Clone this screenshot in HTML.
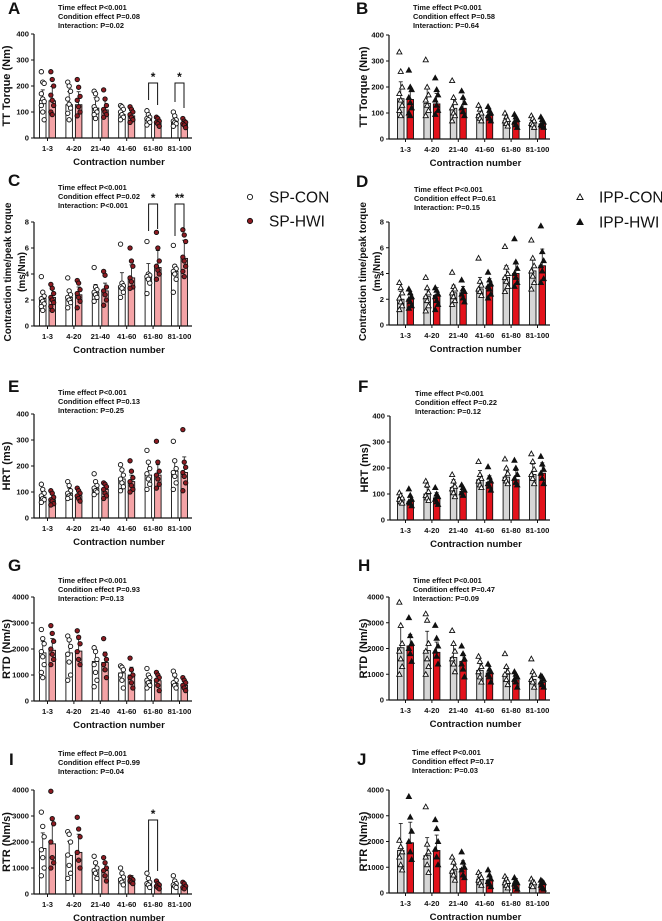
<!DOCTYPE html>
<html><head><meta charset="utf-8"><style>
html,body{margin:0;padding:0;background:#fff;}
svg{display:block;font-family:"Liberation Sans",Arial,sans-serif;}
text{font-weight:bold;fill:#111;}
</style></head>
<body>
<svg id="fig" width="662" height="921" viewBox="0 0 662 921" xmlns="http://www.w3.org/2000/svg"></svg>
<script>
const cats=["1-3","4-20","21-40","41-60","61-80","81-100"];
// Panel A
const A_con=[145,128,115,90,73,62], A_hwi=[143,128,108,85,58,52];
const A_conSd=[40,50,40,25,15,15], A_hwiSd=[55,50,40,25,15,15];
const A_conPts=[[255,215,210,170,150,140,125,100,70],[215,200,180,150,130,115,95,70],[180,170,150,120,110,100,90,75],[125,120,110,100,90,80,70],[105,90,80,75,70,60,50],[100,85,70,65,60,55,45]];
const A_hwiPts=[[255,225,200,165,145,125,100,90],[225,195,160,145,120,100,85],[185,150,125,110,100,90,80],[120,110,100,90,80,70,60],[80,75,65,60,55,45],[75,65,60,55,50,40]];
const A_ticks=[0,100,200,300,400];
// Panel B
const B_con=[155,137,118,95,70,62], B_hwi=[152,135,118,90,65,58];
const B_conSd=[65,60,40,25,18,15], B_hwiSd=[45,40,35,25,18,15];
const B_conPts=[[335,260,200,175,150,130,110,90],[305,200,170,150,130,110,90],[225,160,140,120,100,90,70],[130,115,100,90,80,70],[100,85,75,70,60,50],[90,80,70,60,55,45]];
const B_hwiPts=[[265,200,190,160,140,120,100,90],[235,190,170,150,130,110,95],[185,160,140,120,105,90],[125,110,100,90,80,70],[95,85,75,65,55,45],[85,75,65,55,50,45]];
// Panel C
const C_con=[2.1,2.2,2.6,3.0,3.8,4.2], C_hwi=[2.2,2.4,2.7,3.7,4.5,5.2];
const C_conSd=[0.5,0.5,0.6,1.1,1.0,0.5], C_hwiSd=[0.6,0.6,0.6,1.0,1.3,1.4];
const C_conPts=[[3.8,2.6,2.3,2.1,1.9,1.7,1.5,1.2],[3.7,2.7,2.4,2.2,2.0,1.8,1.4],[4.5,3.0,2.8,2.6,2.4,2.2,1.9],[6.3,3.3,3.1,3.0,2.9,2.6,2.2],[6.5,4.0,3.9,3.8,3.6,3.3,2.5],[6.2,4.6,4.4,4.2,4.0,3.6,2.6]];
const C_hwiPts=[[3.2,2.9,2.5,2.2,2.0,1.8,1.5,1.2],[3.5,3.3,2.8,2.5,2.2,1.9,1.4],[4.2,3.9,3.0,2.7,2.4,2.0,1.6],[6.0,5.0,4.6,3.7,3.4,3.0,2.9],[7.2,6.0,5.0,4.6,4.3,4.0,3.6],[7.4,7.0,6.5,5.3,5.0,4.6,4.2,3.8]];
const C_ticks=[0,2,4,6,8];
// Panel D
const D_con=[2.0,2.2,2.5,2.8,3.7,4.2], D_hwi=[2.0,2.3,2.5,3.0,4.0,4.6];
const D_conSd=[0.6,0.6,0.6,0.9,0.9,0.9], D_hwiSd=[0.6,0.6,0.5,0.6,0.9,1.3];
const D_conPts=[[3.3,2.9,2.5,2.1,1.8,1.5,1.2],[3.7,2.9,2.5,2.2,1.9,1.5,1.1],[4.1,3.0,2.8,2.5,2.2,1.9,1.6],[5.2,3.4,3.1,2.8,2.6,2.3],[6.1,4.5,4.0,3.7,3.4,3.0,2.6],[6.6,5.2,4.6,4.2,3.8,3.3,2.8]];
const D_hwiPts=[[2.8,2.5,2.2,2.0,1.8,1.5,1.3],[2.9,2.7,2.4,2.2,1.9,1.6,1.2],[3.5,2.8,2.6,2.4,2.1,1.8],[4.1,3.5,3.2,3.0,2.8,2.4,2.1],[6.7,4.9,4.4,4.0,3.7,3.3,3.0],[7.7,5.7,5.0,4.6,4.2,3.6,3.3]];
// Panel E
const E_con=[80,95,115,150,165,180], E_hwi=[70,85,110,140,165,175];
const E_conSd=[20,20,22,30,45,45], E_hwiSd=[20,18,20,25,40,60];
const E_conPts=[[130,110,95,85,75,70,60],[140,125,105,95,85,80,75],[170,140,125,115,105,100,90],[205,185,165,150,135,120,105],[260,215,190,170,150,130,110],[295,220,190,175,160,135,110]];
const E_hwiPts=[[105,95,80,70,65,55,50],[115,105,95,85,75,65],[135,130,120,110,95,85,75],[220,180,155,140,125,110,100],[295,215,180,165,150,130,115],[340,215,195,175,160,135,105]];
// Panel F
const F_con=[85,100,125,155,165,175], F_hwi=[70,85,110,145,155,180];
const F_conSd=[18,25,30,35,35,40], F_hwiSd=[20,20,15,25,35,40];
const F_conPts=[[105,95,85,80,70,65],[150,135,110,95,85,75],[175,150,130,120,105,90],[225,175,160,150,135,125],[235,200,180,160,150,140],[255,225,195,175,160,140]];
const F_hwiPts=[[120,95,80,70,65,55],[125,100,90,80,70,60],[135,125,115,105,95],[205,165,150,140,130,115],[230,200,175,160,145,135],[245,215,195,180,160,140]];
// Panel G
const G_con=[1850,1850,1520,1080,790,680], G_hwi=[1950,1920,1480,1000,780,600];
const G_conSd=[450,500,450,250,200,250], G_hwiSd=[450,450,400,300,250,200];
const G_conPts=[[2750,2400,2200,1900,1700,1400,1100,900],[2500,2350,2100,1800,1500,1000,800],[2050,1900,1600,1400,1100,800,550],[1350,1300,1200,1000,800,500],[1250,1000,900,800,700,600,500],[1150,1000,800,700,600,500]];
const G_hwiPts=[[2900,2600,2300,2000,1800,1600,1400],[2700,2450,2200,1900,1600,1400],[2400,1800,1600,1400,1200,900],[1650,1200,1000,900,700,500],[1100,1000,900,800,600,400],[900,800,700,600,500,400]];
const G_ticks=[0,1000,2000,3000,4000];
// Panel H
const H_con=[2030,1920,1650,1150,1000,800], H_hwi=[2100,1850,1500,1050,780,680];
const H_conSd=[800,750,500,300,300,300], H_hwiSd=[450,400,300,250,200,200];
const H_conPts=[[3800,2900,2200,1900,1600,1300,1000],[3350,3100,2200,1900,1600,1300,1000],[2700,2200,1900,1600,1400,1100],[1700,1500,1300,1100,900,700],[1800,1300,1100,1000,800,600],[1600,1100,1000,800,700,500]];
const H_hwiPts=[[3200,2500,2200,2000,1800,1500],[2900,2400,2100,1900,1700,1400],[2100,1800,1600,1400,1200,900],[1400,1200,1100,1000,900,700],[1100,1000,900,800,700,500],[950,900,800,700,600,500]];
// Panel I
const I_con=[1750,1480,960,600,430,370], I_hwi=[1930,1600,900,560,330,300];
const I_conSd=[600,550,300,200,150,120], I_hwiSd=[900,700,300,150,120,120];
const I_conPts=[[3150,2600,2200,1700,1400,1000,700],[2400,2300,2000,1500,1100,800,600],[1450,1200,1000,900,800,600],[1000,800,650,550,450,350],[800,600,450,400,350,250],[700,500,400,350,300,250]];
const I_hwiPts=[[3950,2900,2700,2000,1400,1200,1000],[2950,2500,2200,1600,1300,1000],[1400,1200,1000,900,700,500],[650,600,550,500,450,400],[500,400,350,300,250,200],[450,400,300,250,200]];
// Panel J
const J_con=[1650,1450,860,540,420,350], J_hwi=[1950,1650,950,500,380,330];
const J_conSd=[1050,700,350,250,180,150], J_hwiSd=[800,600,300,200,180,150];
const J_conPts=[[2050,1800,1600,1400,1100,900],[3350,1900,1600,1400,1100,800],[1400,1200,1000,850,700,500],[800,700,600,500,400,300],[650,550,450,400,300,200],[550,450,400,300,250]];
const J_hwiPts=[[3750,2950,2400,2000,1600,1300],[2850,2500,2000,1700,1400,1100],[1600,1200,1000,900,700,600],[900,700,550,450,350,250],[600,500,400,350,250,150],[500,450,400,300,200,150]];

const NS="http://www.w3.org/2000/svg";
const svg=document.getElementById('fig');
function mk(tag,attrs,parent){const e=document.createElementNS(NS,tag);for(const k in attrs)e.setAttribute(k,attrs[k]);(parent||svg).appendChild(e);return e;}
function txt(s,attrs,parent){const e=mk('text',attrs,parent);e.textContent=s;return e;}

const panels=[
 {L:'A',left:true,ax:34,top:34,bot:138,max:400,ticks:A_ticks,con:A_con,hwi:A_hwi,cs:A_conSd,hs:A_hwiSd,cp:A_conPts,hp:A_hwiPts,yt:['TT Torque (Nm)'],stats:['Time effect P<0.001','Condition effect P=0.08','Interaction: P=0.02'],sx:58,sy:10,lx:8,ly:14,br:[[4,'*',83,100,105],[5,'*',83,102,108]]},
 {L:'B',left:false,ax:389,top:35,bot:139,max:400,ticks:A_ticks,con:B_con,hwi:B_hwi,cs:B_conSd,hs:B_hwiSd,cp:B_conPts,hp:B_hwiPts,yt:['TT Torque (Nm)'],stats:['Time effect P<0.001','Condition effect P=0.58','Interaction: P=0.64'],sx:413,sy:10,lx:356,ly:14,br:[]},
 {L:'C',left:true,ax:34,top:222,bot:326,max:8,ticks:C_ticks,con:C_con,hwi:C_hwi,cs:C_conSd,hs:C_hwiSd,cp:C_conPts,hp:C_hwiPts,yt:['Contraction time/peak torque','(ms/Nm)'],ytx:[11,25],stats:['Time effect P<0.001','Condition effect P=0.02','Interaction: P<0.001'],sx:58,sy:190,lx:8,ly:186,br:[[4,'*',204,231,229],[5,'**',204,236,229]]},
 {L:'D',left:false,ax:389,top:222,bot:325,max:8,ticks:C_ticks,con:D_con,hwi:D_hwi,cs:D_conSd,hs:D_hwiSd,cp:D_conPts,hp:D_hwiPts,yt:['Contraction time/peak torque','(ms/Nm)'],ytx:[366,380],stats:['Time effect P<0.001','Condition effect P=0.61','Interaction: P=0.15'],sx:414,sy:192,lx:356,ly:187,br:[]},
 {L:'E',left:true,ax:34,top:414,bot:518,max:400,ticks:A_ticks,con:E_con,hwi:E_hwi,cs:E_conSd,hs:E_hwiSd,cp:E_conPts,hp:E_hwiPts,yt:['HRT (ms)'],stats:['Time effect P<0.001','Condition effect P=0.13','Interaction: P=0.25'],sx:58,sy:395,lx:8,ly:392,br:[]},
 {L:'F',left:false,ax:390,top:416,bot:520,max:400,ticks:A_ticks,con:F_con,hwi:F_hwi,cs:F_conSd,hs:F_hwiSd,cp:F_conPts,hp:F_hwiPts,yt:['HRT (ms)'],stats:['Time effect P<0.001','Condition effect P=0.22','Interaction: P=0.12'],sx:415,sy:396,lx:358,ly:392,br:[]},
 {L:'G',left:true,ax:34,top:597,bot:701,max:4000,ticks:G_ticks,con:G_con,hwi:G_hwi,cs:G_conSd,hs:G_hwiSd,cp:G_conPts,hp:G_hwiPts,yt:['RTD (Nm/s)'],stats:['Time effect P<0.001','Condition effect P=0.93','Interaction: P=0.13'],sx:58,sy:583,lx:8,ly:571,br:[]},
 {L:'H',left:false,ax:389,top:597,bot:700,max:4000,ticks:G_ticks,con:H_con,hwi:H_hwi,cs:H_conSd,hs:H_hwiSd,cp:H_conPts,hp:H_hwiPts,yt:['RTD (Nm/s)'],stats:['Time effect P<0.001','Condition effect P=0.47','Interaction: P=0.09'],sx:413,sy:583,lx:358,ly:571,br:[]},
 {L:'I',left:true,ax:34,top:790,bot:894,max:4000,ticks:G_ticks,con:I_con,hwi:I_hwi,cs:I_conSd,hs:I_hwiSd,cp:I_conPts,hp:I_hwiPts,yt:['RTR (Nm/s)'],stats:['Time effect P=0.001','Condition effect P=0.99','Interaction: P=0.04'],sx:58,sy:756,lx:9,ly:765,br:[[4,'*',820,871,871]]},
 {L:'J',left:false,ax:389,top:790,bot:893,max:4000,ticks:G_ticks,con:J_con,hwi:J_hwi,cs:J_conSd,hs:J_hwiSd,cp:J_conPts,hp:J_hwiPts,yt:['RTR (Nm/s)'],stats:['Time effect P<0.001','Condition effect P=0.17','Interaction: P=0.03'],sx:412,sy:755,lx:357,ly:765,br:[]}
];

function marker(g,x,y,isCon,left,big){
  let m;
  const k=big?1.2:1;
  if(left){
    m=mk('circle',{cx:x,cy:y,r:2.2*k,fill:isCon?'#fff':'#8e1b22',stroke:'#111','stroke-width':0.9},g);
  }else{
    const s=2.6*k;
    m=mk('polygon',{points:`${x},${y-s} ${x+s},${y+s*0.8} ${x-s},${y+s*0.8}`,fill:isCon?'#fff':'#111',stroke:'#111','stroke-width':0.9},g);
  }
  
  
}

panels.forEach(p=>{
  const g=mk('g',{});
  
  
  const yS=v=>p.bot-(v/p.max)*(p.bot-p.top);
  const first=p.left?47.5:405.5, step=26.4;
  const xC=i=>first+i*step;
  const xEnd=p.left?192:550;
  const lt=txt(p.L,{x:p.lx,y:p.ly,'font-size':17},g);
  
  
  p.stats.forEach((s,i)=>{const t=txt(s,{x:p.sx,y:p.sy+i*9,'font-size':7.4},g);
    
    });
  cats.forEach((c,i)=>{
    const cx=xC(i);
    [[p.con[i],p.cs[i],p.cp[i],true,cx-8],[p.hwi[i],p.hs[i],p.hp[i],false,cx+1.5]].forEach(([m,sd,pts,isCon,bx])=>{
      const fill=p.left?(isCon?'#fff':'#f4a3a6'):(isCon?'#d6d6d6':'#e3121b');
      const bc=bx+3.25;
      const el=mk('line',{x1:bc,x2:bc,y1:yS(m),y2:yS(m+sd),stroke:'#111','stroke-width':0.8},g);
      
      
      const cap=mk('line',{x1:bc-2,x2:bc+2,y1:yS(m+sd),y2:yS(m+sd),stroke:'#111','stroke-width':0.8},g);
      
      
      const r=mk('rect',{x:bx,y:yS(m),width:6.5,height:p.bot-yS(m),fill:fill,stroke:'#111','stroke-width':0.9},g);
      
      
      pts.forEach((v,k)=>{marker(g,bc+((k%3)-1)*1.4,yS(v),isCon,p.left,false);});
    });
    const tk=mk('line',{x1:cx,x2:cx,y1:p.bot,y2:p.bot+3,stroke:'#111','stroke-width':1},g);
    
    
    const tl=txt(c,{x:cx,y:p.bot+13,'font-size':7.6,'text-anchor':'middle'},g);
    
    
  });
  const ya=mk('line',{x1:p.ax,x2:p.ax,y1:p.top,y2:p.bot,stroke:'#111','stroke-width':1.2},g);
  
  
  const xa=mk('line',{x1:p.ax,x2:xEnd,y1:p.bot,y2:p.bot,stroke:'#111','stroke-width':1.2},g);
  
  
  p.ticks.forEach(t=>{
    const y=yS(t);
    const tm=mk('line',{x1:p.ax-3,x2:p.ax,y1:y,y2:y,stroke:'#111','stroke-width':1},g);
    
    
    const tt=txt(String(t),{x:p.ax-5,y:y+2.7,'font-size':7.6,'text-anchor':'end'},g);
    
    
  });
  const xt=txt('Contraction number',{x:(p.ax+xEnd)/2+6,y:p.bot+27,'font-size':9.6,'text-anchor':'middle'},g);
  
  
  const yc=(p.top+p.bot)/2;
  const tx0=p.ax-(p.left?24:22);
  if(p.yt.length===1){
    const yt=txt(p.yt[0],{x:0,y:0,'font-size':11,'text-anchor':'middle',transform:`translate(${tx0},${yc}) rotate(-90)`},g);
    
    
  }else{
    p.yt.forEach((s,i)=>{
      const yt=txt(s,{x:0,y:0,'font-size':10,'text-anchor':'middle',transform:`translate(${p.ytx[i]},${yc-2}) rotate(-90)`},g);
      
      
    });
  }
  p.br.forEach(b=>{
    const cx=xC(b[0]);
    const xl=cx-4.5, xr=cx+4.5;
    const pl=mk('polyline',{points:`${xl},${b[3]} ${xl},${b[2]} ${xr},${b[2]} ${xr},${b[4]}`,fill:'none',stroke:'#111','stroke-width':1},g);
    
    
    const st=txt(b[1],{x:cx,y:b[2]-2,'font-size':12,'text-anchor':'middle'},g);
    
    
  });
});

const lg=mk('g',{});


[['SP-CON',true,197],['SP-HWI',false,221]].forEach(([s,c,y])=>{
  marker(lg,250,y,c,true,true);
  const t=txt(s,{x:269,y:y+5.5,'font-size':15.5},lg);
  t.style.fontWeight='normal';
  
  
});
[['IPP-CON',true,197],['IPP-HWI',false,222]].forEach(([s,c,y])=>{
  marker(lg,580,y,c,false,true);
  const t=txt(s,{x:599,y:y+5.5,'font-size':15.5},lg);
  t.style.fontWeight='normal';
  
  
});
</script>
</body></html>
